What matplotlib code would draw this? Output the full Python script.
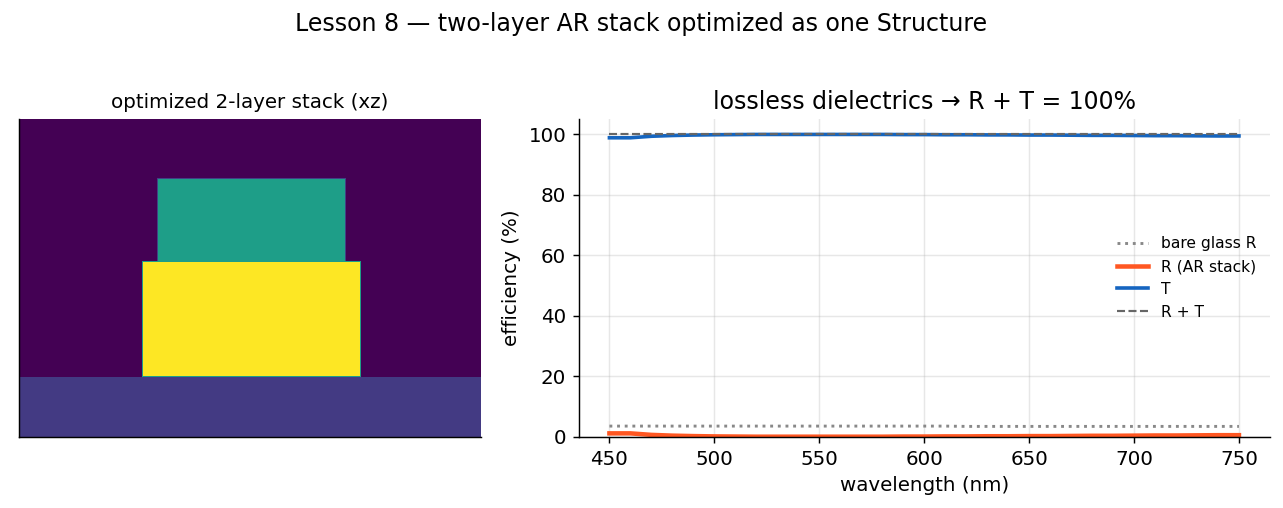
import matplotlib
matplotlib.use("Agg")
import matplotlib.pyplot as plt
import numpy as np

wavelength = [450, 460, 470, 480, 490, 500, 510, 520, 530, 540, 550, 560, 570, 580, 590, 600,
              610, 620, 630, 640, 650, 660, 670, 680, 690, 700, 710, 720, 730, 740, 750]
bare_glass_r = [3.6, 3.6, 3.6, 3.6, 3.6, 3.6, 3.6, 3.6, 3.6, 3.6, 3.6, 3.6, 3.6, 3.6, 3.6, 3.6,
                3.6, 3.5, 3.5, 3.5, 3.5, 3.5, 3.5, 3.5, 3.5, 3.5, 3.5, 3.5, 3.5, 3.5, 3.5]
r_stack = [1.2, 1.2, 0.7, 0.45, 0.3, 0.2, 0.15, 0.1, 0.1, 0.1, 0.1, 0.1, 0.1, 0.1, 0.15, 0.15,
           0.2, 0.2, 0.25, 0.25, 0.3, 0.3, 0.35, 0.4, 0.4, 0.45, 0.5, 0.5, 0.55, 0.6, 0.6]
t_stack = [98.8, 98.8, 99.3, 99.55, 99.7, 99.8, 99.85, 99.9, 99.9, 99.9, 99.9, 99.9, 99.9, 99.9, 99.85, 99.85,
           99.8, 99.8, 99.75, 99.75, 99.7, 99.7, 99.65, 99.6, 99.6, 99.55, 99.5, 99.5, 99.45, 99.4, 99.4]
r_plus_t = [100.0] * len(wavelength)

y_ticks = [0, 20, 40, 60, 80, 100]

# permittivity per layer, edge cells hold the averaged value
eps_air = 1.0
eps_glass = 1.9
eps_top = 3.95
eps_bottom = 6.25
eps_top_edge = 2.0
eps_bottom_edge = 3.95
grid_nx = 462
grid_nz = 318
glass_rows = 60
bottom_cols = (123, 342)
bottom_rows = (60, 176)
top_cols = (138, 327)
top_rows = (176, 259)

eps = np.full((grid_nz, grid_nx), eps_air)
eps[:glass_rows, :] = eps_glass
eps[top_rows[0]:top_rows[1], top_cols[0]:top_cols[1]] = eps_top_edge
eps[top_rows[0]:top_rows[1] - 1, top_cols[0] + 1:top_cols[1] - 1] = eps_top
eps[bottom_rows[0]:bottom_rows[1], bottom_cols[0]:bottom_cols[1]] = eps_bottom_edge
eps[bottom_rows[0] + 1:bottom_rows[1] - 1, bottom_cols[0] + 1:bottom_cols[1] - 1] = eps_bottom

W, H = 1283, 508
fig = plt.figure(figsize=(W / 130, H / 130), dpi=130)
fig.suptitle("Lesson 8 — two-layer AR stack optimized as one Structure", fontsize=13.1, y=1 - 24 / H, va="center")

ax_img = fig.add_axes([19 / W, 1 - 437 / H, 462 / W, 318 / H])
ax_img.imshow(eps, origin="lower", cmap="viridis", aspect="auto", interpolation="nearest")
ax_img.set_xticks([])
ax_img.set_yticks([])
ax_img.set_title("optimized 2-layer stack (xz)", fontsize=11, pad=6)

ax = fig.add_axes([579 / W, 1 - 437 / H, 691 / W, 318 / H])
ax.plot(wavelength, bare_glass_r, color="#888888", ls=":", lw=1.6, label="bare glass R")
ax.plot(wavelength, r_stack, color="#FF5722", lw=2.5, label="R (AR stack)")
ax.plot(wavelength, t_stack, color="#1565C0", lw=2, label="T")
ax.plot(wavelength, r_plus_t, color="#666666", ls="--", lw=1.2, label="R + T")

ax.set_xlim(435.5, 764.8)
ax.set_ylim(0, 105)
ax.set_yticks(y_ticks)
ax.tick_params(labelsize=11)
ax.set_xlabel("wavelength (nm)", fontsize=11)
ax.set_ylabel("efficiency (%)", fontsize=11)
ax.set_title("lossless dielectrics → R + T = 100%", fontsize=13.1, pad=5.5)
ax.grid(True, alpha=0.3)
ax.legend(loc="center right", frameon=False, fontsize=8.6)

for a in (ax_img, ax):
    a.spines["top"].set_visible(False)
    a.spines["right"].set_visible(False)

fig.savefig("out.png", dpi=130)
